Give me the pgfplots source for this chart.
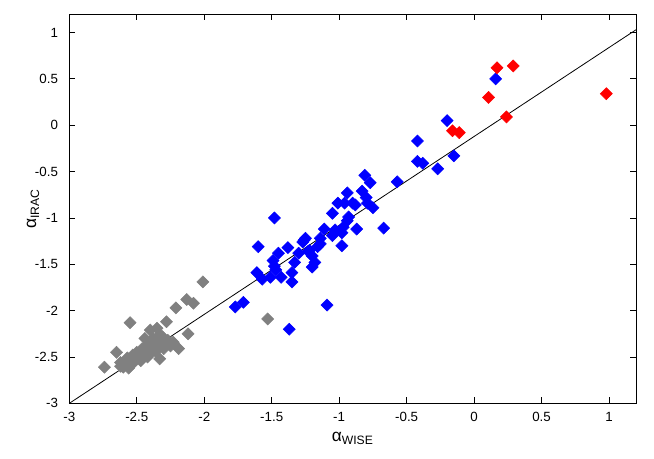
\documentclass[border=0pt]{standalone}
\usepackage{fontspec}
\setmainfont{Liberation Sans}
\usepackage{pgfplots}
\pgfplotsset{compat=1.18}

\definecolor{ptgray}{RGB}{128,128,128}

\begin{document}
\begin{tikzpicture}
\begin{axis}[
    scale only axis,
    width=425pt,
    height=292pt,
    xmin=-3, xmax=1.2,
    ymin=-3, ymax=1.2,
    xtick={-3,-2.5,...,1},
    ytick={-3,-2.5,...,1},
    tick align=inside,
    major tick length=4.5pt,
    tick style={black, line width=0.6pt},
    axis line style={line width=0.7pt},
    xticklabel style={/pgf/number format/fixed, /pgf/number format/assume math mode=true, yshift=-3pt},
    yticklabel style={/pgf/number format/fixed, /pgf/number format/assume math mode=true, xshift=-5pt},
    ticklabel style={font=\normalsize},
    xlabel={α\textsubscript{WISE}},
    ylabel={α\textsubscript{IRAC}},
    label style={font=\fontsize{13}{15}\selectfont},
    xlabel style={yshift=-1pt},
    ylabel style={yshift=-10pt},
    clip=false,
]
% grey sources
\addplot[only marks, mark=square*, mark options={rotate=45}, mark size=3.2pt, color=ptgray] coordinates {
(-2.01,-1.69) (-2.13,-1.88) (-2.08,-1.92) (-2.21,-1.97) (-2.55,-2.13)
(-2.28,-2.12) (-2.12,-2.25) (-2.65,-2.45) (-2.74,-2.61) (-2.33,-2.52)
(-2.19,-2.41) (-2.23,-2.34) (-2.40,-2.21) (-2.35,-2.19) (-2.38,-2.30)
(-2.33,-2.35) (-2.42,-2.37) (-2.46,-2.41) (-2.50,-2.45) (-2.53,-2.48)
(-2.57,-2.51) (-2.60,-2.61) (-2.56,-2.62) (-2.53,-2.57) (-2.47,-2.54)
(-2.62,-2.56) (-2.42,-2.50) (-2.38,-2.43) (-2.30,-2.41) (-2.27,-2.32)
(-2.33,-2.26) (-2.45,-2.45) (-2.40,-2.40) (-2.36,-2.36) (-2.44,-2.30)
(-2.52,-2.52) (-2.58,-2.55) (-2.48,-2.47) (-2.31,-2.28) (-2.62,-2.60)
(-2.55,-2.58) (-2.36,-2.44) (-2.25,-2.38) (-1.53,-2.09)
};
% blue sources
\addplot[only marks, mark=square*, mark options={rotate=45}, mark size=3.2pt, color=blue] coordinates {
(0.16,0.50) (-0.20,0.05) (-0.42,-0.17) (-0.42,-0.39) (-0.38,-0.41)
(-0.15,-0.33) (-0.27,-0.47) (-0.57,-0.61) (-0.81,-0.54) (-0.77,-0.62)
(-0.94,-0.73) (-0.83,-0.71) (-0.80,-0.78) (-1.01,-0.84) (-0.96,-0.84)
(-0.90,-0.84) (-0.88,-0.86) (-0.79,-0.84) (-0.75,-0.89) (-1.05,-0.95)
(-0.93,-0.99) (-0.94,-1.03) (-0.67,-1.11) (-1.11,-1.12) (-1.03,-1.13)
(-0.97,-1.10) (-0.87,-1.12) (-0.98,-1.16) (-1.05,-1.19) (-1.14,-1.22)
(-0.98,-1.30) (-1.25,-1.22) (-1.16,-1.31) (-1.22,-1.35) (-1.20,-1.41)
(-1.48,-1.00) (-1.60,-1.31) (-1.45,-1.38) (-1.38,-1.32) (-1.27,-1.26)
(-1.30,-1.38) (-1.23,-1.36) (-1.20,-1.53) (-1.49,-1.46) (-1.48,-1.52)
(-1.33,-1.48) (-1.35,-1.59) (-1.35,-1.69) (-1.43,-1.64) (-1.47,-1.56)
(-1.61,-1.59) (-1.57,-1.66) (-1.51,-1.64) (-1.71,-1.91) (-1.77,-1.96)
(-1.09,-1.94) (-1.37,-2.20) (-1.18,-1.48) (-1.26,-1.24) (-1.14,-1.28)
};
% red sources
\addplot[only marks, mark=square*, mark options={rotate=45}, mark size=3.2pt, color=red] coordinates {
(0.17,0.62) (0.29,0.64) (0.107,0.30) (0.24,0.09) (0.98,0.34)
(-0.16,-0.06) (-0.11,-0.08)
};
% one-to-one relation
\addplot[black, line width=0.6pt, mark=none] coordinates {(-3,-3) (1.2,1.03)};
% page margins as in the original figure
\path (rel axis cs:0,0) ++(-52pt,-41pt);
\path (rel axis cs:1,1) ++(13.5pt,10.5pt);
\end{axis}
\end{tikzpicture}
\end{document}
